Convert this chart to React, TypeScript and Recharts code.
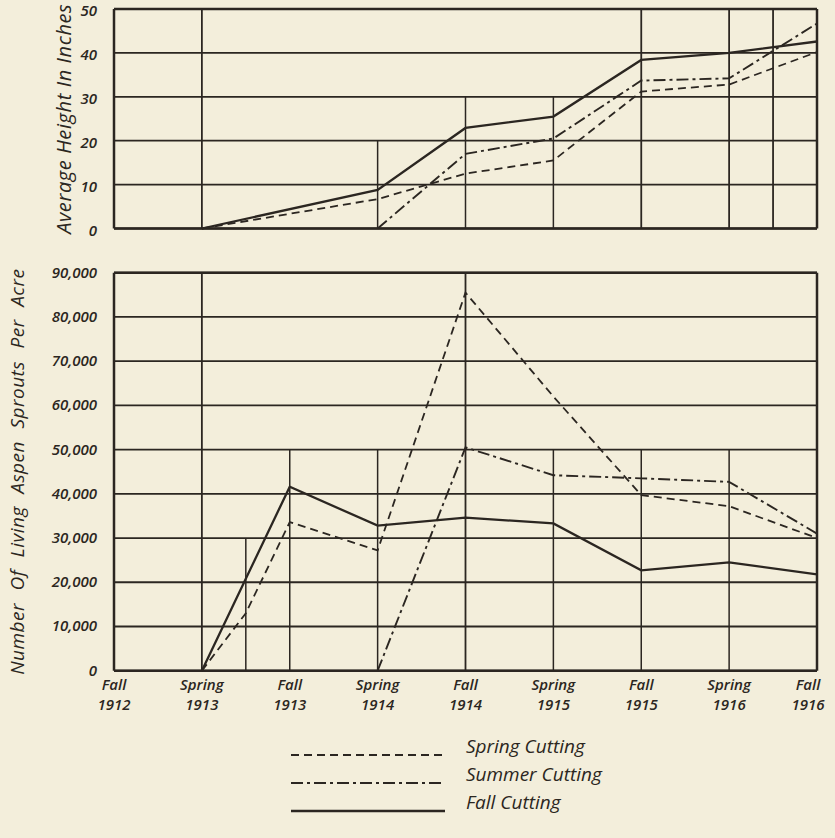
import React from 'react';
import { LineChart, Line, XAxis, YAxis, CartesianGrid, ReferenceLine } from 'recharts';

// ---- categories (x positions are the index in this list) ----
const categories = [
  'Fall 1912', 'Spring 1913', 'Fall 1913', 'Spring 1914', 'Fall 1914',
  'Spring 1915', 'Fall 1915', 'Spring 1916', 'Fall 1916',
];
const xTicks = [0, 1, 2, 3, 4, 5, 6, 7, 8];

// ---- Average height in inches ----
const heightTicks = [0, 10, 20, 30, 40, 50];
const heightSpringX = [1, 3, 4, 5, 6, 7, 8];
const heightSpring = [0, 6.7, 12.5, 15.5, 31.2, 32.8, 40.2];
const heightSummerX = [3, 4, 5, 6, 7, 8];
const heightSummer = [0, 17, 20.5, 33.7, 34.2, 46.7];
const heightFallX = [1, 3, 4, 5, 6, 7, 8];
const heightFall = [0, 8.8, 22.9, 25.5, 38.4, 40, 42.6];
const heightGridX = [1, 3, 4, 5, 6, 7, 7.5];
const heightGridTop = [50, 20, 30, 30, 50, 50, 50];

// ---- Number of living aspen sprouts per acre ----
const countTicks = [0, 10000, 20000, 30000, 40000, 50000, 60000, 70000, 80000, 90000];
const countSpringX = [1, 1.5, 2, 3, 4, 5, 6, 7, 8];
const countSpring = [0, 13000, 33600, 27200, 85500, 62000, 39700, 37200, 30000];
const countSummerX = [3, 4, 5, 6, 7, 8];
const countSummer = [0, 50500, 44200, 43500, 42700, 31000];
const countFallX = [1, 2, 3, 4, 5, 6, 7, 8];
const countFall = [0, 41600, 32800, 34600, 33300, 22700, 24500, 21800];
const countGridX = [1, 1.5, 2, 3, 4, 5, 6, 7];
const countGridTop = [90000, 30000, 50000, 50000, 90000, 50000, 50000, 50000];

const seriesNames = ['Spring Cutting', 'Summer Cutting', 'Fall Cutting'];

const INK = '#2b2621';
const BG = '#f3eedb';
const FONT = "'Open Sans', 'DejaVu Sans', sans-serif";
const DASH_SPRING = '8 5';
const DASH_SUMMER = '12 4 3 4';

const toPoints = (xs: number[], ys: number[]) => xs.map((x, i) => ({ x, y: ys[i] }));

const fmtCount = (v: number) => v.toLocaleString('en-US');

const YTick = (fmt: (v: number) => string, dy: number) => (props: any) => {
  const { x, y, payload } = props;
  return (
    <text x={x} y={y} dy={dy} textAnchor="end" fill={INK} fontSize={15} fontStyle="italic"
      fontWeight={600} fontFamily={FONT}>
      {fmt(payload.value)}
    </text>
  );
};

const XTick = (props: any) => {
  const { x, y, payload } = props;
  const [season, year] = categories[payload.value].split(' ');
  const cx = payload.value === 8 ? x - 9 : x;
  return (
    <text x={cx} y={y} textAnchor="middle" fill={INK} fontSize={15} fontStyle="italic"
      fontWeight={600} fontFamily={FONT}>
      <tspan x={cx} dy={11}>{season}</tspan>
      <tspan x={cx} dy={20}>{year}</tspan>
    </text>
  );
};

const gridSegments = (xs: number[], tops: number[], full: number) =>
  xs.map((gx, i) => (
    <ReferenceLine key={'g' + i}
      segment={[{ x: gx, y: 0 }, { x: gx, y: tops[i] }]}
      stroke={INK} strokeWidth={tops[i] === full ? 1.8 : 1.5} />
  ));

const frame = (max: number) => [
  <ReferenceLine key="f1" x={0} stroke={INK} strokeWidth={2.5} />,
  <ReferenceLine key="f2" x={8} stroke={INK} strokeWidth={2.5} />,
  <ReferenceLine key="f3" y={0} stroke={INK} strokeWidth={2.5} />,
  <ReferenceLine key="f4" y={max} stroke={INK} strokeWidth={2.5} />,
];

const lineStyles = [
  { dash: DASH_SPRING, width: 1.8 },
  { dash: DASH_SUMMER, width: 1.9 },
  { dash: undefined, width: 2.3 },
];

export default function App() {
  const hData = [
    toPoints(heightSpringX, heightSpring),
    toPoints(heightSummerX, heightSummer),
    toPoints(heightFallX, heightFall),
  ];
  const cData = [
    toPoints(countSpringX, countSpring),
    toPoints(countSummerX, countSummer),
    toPoints(countFallX, countFall),
  ];
  return (
    <div style={{ position: 'absolute', left: 0, top: 0, width: 835, height: 838, background: BG, overflow: 'hidden' }}>
      <div style={{ position: 'absolute', left: 0, top: 0 }}>
        <LineChart width={835} height={240} margin={{ top: 9, right: 18, left: 0, bottom: 11.5 }}>
          <CartesianGrid vertical={false} stroke={INK} strokeWidth={1.8} />
          <XAxis type="number" dataKey="x" domain={[0, 8]} ticks={xTicks} hide allowDataOverflow />
          <YAxis type="number" domain={[0, 50]} ticks={heightTicks} width={114} axisLine={false}
            tickLine={false} tickSize={0} tickMargin={17} tick={YTick((v) => String(v), 7)}
            label={{ value: 'Average Height In Inches', angle: -90, position: 'insideLeft', offset: 64,
              style: { textAnchor: 'middle', fontFamily: FONT, fontStyle: 'italic', fontSize: 20, letterSpacing: 0.6, fill: INK } }} />
          {gridSegments(heightGridX, heightGridTop, 50)}
          {frame(50)}
          {hData.map((d, i) => (
            <Line key={seriesNames[i]} name={seriesNames[i]} data={d} dataKey="y" type="linear"
              stroke={INK} strokeWidth={lineStyles[i].width} strokeDasharray={lineStyles[i].dash}
              dot={false} activeDot={false} isAnimationActive={false} />
          ))}
        </LineChart>
      </div>
      <div style={{ position: 'absolute', left: 0, top: 240 }}>
        <LineChart width={835} height={490} margin={{ top: 32.7, right: 18, left: 0, bottom: 0 }}>
          <CartesianGrid vertical={false} stroke={INK} strokeWidth={1.8} />
          <XAxis type="number" dataKey="x" domain={[0, 8]} ticks={xTicks} height={59.3}
            axisLine={false} tickLine={false} tick={<XTick />} allowDataOverflow interval={0} />
          <YAxis type="number" domain={[0, 90000]} ticks={countTicks} width={114} axisLine={false}
            tickLine={false} tickSize={0} tickMargin={17} tick={YTick(fmtCount, 5)}
            label={{ value: 'Number Of Living Aspen Sprouts Per Acre', angle: -90, position: 'insideLeft', offset: 17,
              style: { textAnchor: 'middle', fontFamily: FONT, fontStyle: 'italic', fontSize: 19, letterSpacing: 0.5, wordSpacing: 7, fill: INK } }} />
          {gridSegments(countGridX, countGridTop, 90000)}
          {frame(90000)}
          {cData.map((d, i) => (
            <Line key={seriesNames[i]} name={seriesNames[i]} data={d} dataKey="y" type="linear"
              stroke={INK} strokeWidth={lineStyles[i].width} strokeDasharray={lineStyles[i].dash}
              dot={false} activeDot={false} isAnimationActive={false} />
          ))}
        </LineChart>
      </div>
      <svg style={{ position: 'absolute', left: 0, top: 730 }} width={835} height={108}>
        {seriesNames.map((n, i) => (
          <g key={n}>
            <line x1={291} x2={445} y1={25 + i * 28} y2={25 + i * 28} stroke={INK}
              strokeWidth={lineStyles[i].width + 0.3} strokeDasharray={lineStyles[i].dash} />
            <text x={466} y={25 + i * 28 - 2} fill={INK} fontSize={19} fontStyle="italic"
              fontFamily={FONT}>{n}</text>
          </g>
        ))}
      </svg>
    </div>
  );
}
